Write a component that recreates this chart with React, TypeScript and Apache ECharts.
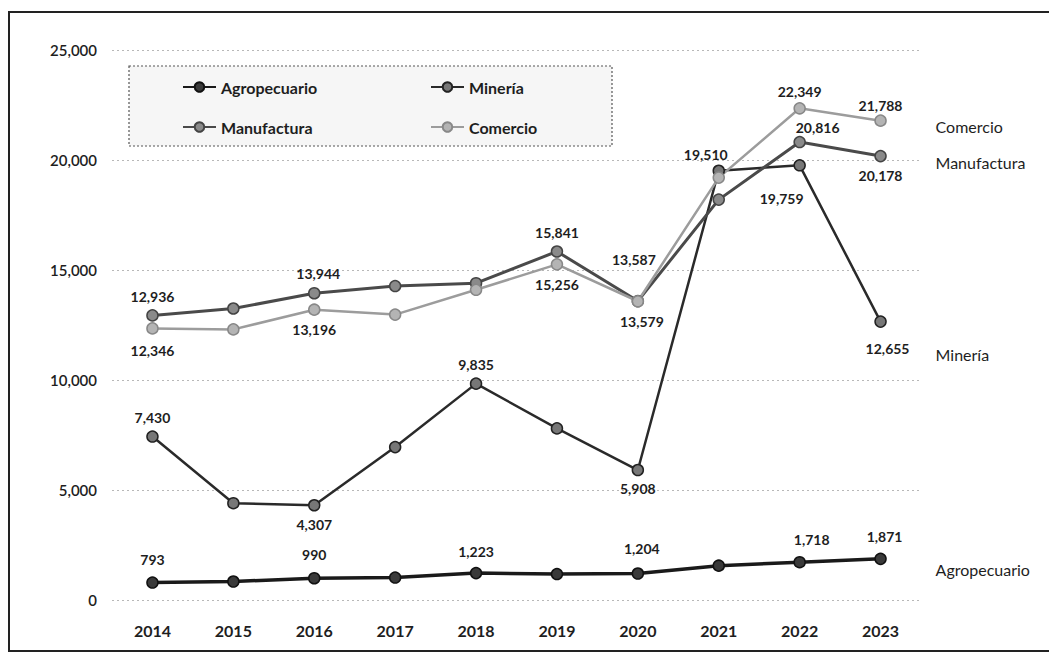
import React, { useEffect, useRef } from "react";
import * as echarts from "echarts";

const years = ["2014", "2015", "2016", "2017", "2018", "2019", "2020", "2021", "2022", "2023"];
const agropecuario = [793, 840, 990, 1020, 1223, 1180, 1204, 1560, 1718, 1871];
const mineria = [7430, 4400, 4307, 6950, 9835, 7800, 5908, 19510, 19759, 12655];
const manufactura = [12936, 13250, 13944, 14270, 14400, 15841, 13587, 18200, 20816, 20178];
const comercio = [12346, 12300, 13196, 12973, 14100, 15256, 13579, 19200, 22349, 21788];
const yTicks = [0, 5000, 10000, 15000, 20000, 25000];

// label placement (style only)
const agroLabels: Record<number, any> = {
  0: { position: "top", distance: 10 },
  2: { position: "top", distance: 10 },
  4: { position: "top", distance: 8 },
  6: { position: "top", distance: 12, offset: [4, 0] },
  8: { position: "top", distance: 9, offset: [12, 0] },
  9: { position: "top", distance: 9, offset: [4, 0] },
};
const mineriaLabels: Record<number, any> = {
  0: { position: "top", distance: 6 },
  2: { position: "bottom", distance: 6 },
  4: { position: "top", distance: 6 },
  6: { position: "bottom", distance: 5 },
  7: { position: "top", distance: 3, offset: [-13, 0] },
  8: { position: "bottom", distance: 20, offset: [-18, 0] },
  9: { position: "bottom", distance: 14, offset: [7, 0] },
};
const manufLabels: Record<number, any> = {
  0: { position: "top", distance: 6 },
  2: { position: "top", distance: 6, offset: [4, 0] },
  5: { position: "top", distance: 6 },
  6: { position: "top", distance: 28, offset: [-4, 0] },
  8: { position: "top", distance: 1, offset: [18, 0] },
  9: { position: "bottom", distance: 6 },
};
const comercioLabels: Record<number, any> = {
  0: { position: "bottom", distance: 9 },
  2: { position: "bottom", distance: 7 },
  5: { position: "bottom", distance: 7 },
  6: { position: "bottom", distance: 7, offset: [4, 0] },
  8: { position: "top", distance: 4 },
  9: { position: "top", distance: 2 },
};

const FONT = "Lato, 'Open Sans', sans-serif";
const fmt = (v: number) => v.toLocaleString("en-US");

function buildData(values: number[], labels: Record<number, any>) {
  return values.map((v, i) => {
    const l = labels[i];
    return {
      value: v,
      label: l
        ? { show: true, ...l, formatter: () => fmt(v) }
        : { show: false },
    };
  });
}

function makeSeries(
  name: string,
  values: number[],
  labels: Record<number, any>,
  lineColor: string,
  lineWidth: number,
  markerColor: string,
  borderColor: string,
  endOffset: number[]
) {
  return {
    name,
    type: "line",
    data: buildData(values, labels),
    symbol: "circle",
    symbolSize: 11,
    lineStyle: { color: lineColor, width: lineWidth },
    itemStyle: { color: markerColor, borderColor, borderWidth: 1.5 },
    label: {
      fontFamily: FONT,
      fontWeight: "bold",
      fontSize: 14,
      color: "#1e1e1e",
    },
    endLabel: {
      show: true,
      formatter: name,
      fontFamily: FONT,
      fontSize: 16,
      color: "#1e1e1e",
      offset: endOffset,
      distance: 5,
    },
    emphasis: { disabled: true },
  };
}

export default function App() {
  const ref = useRef<HTMLDivElement>(null);
  useEffect(() => {
    if (!ref.current) return;
    const chart = echarts.init(ref.current, undefined, { renderer: "svg" });
    const legendBase = {
      orient: "horizontal",
      itemWidth: 33,
      itemHeight: 12,
      itemGap: 4,
      padding: 0,
      textStyle: { fontFamily: FONT, fontWeight: "bold", fontSize: 16, color: "#1e1e1e" },
      selectedMode: false,
    };
    chart.setOption({
      animation: false,
      backgroundColor: "#ffffff",
      grid: { left: 112, right: 128, top: 50, bottom: 54 },
      xAxis: {
        type: "category",
        data: years,
        boundaryGap: true,
        axisLine: { show: false },
        axisTick: { show: false },
        axisLabel: {
          margin: 22,
          fontFamily: FONT,
          fontWeight: "bold",
          fontSize: 16,
          color: "#1e1e1e",
        },
      },
      yAxis: {
        type: "value",
        min: yTicks[0],
        max: yTicks[yTicks.length - 1],
        interval: 5000,
        axisLine: { show: false },
        axisTick: { show: false },
        axisLabel: {
          margin: 15,
          fontFamily: FONT,
          fontWeight: 600,
          fontSize: 15,
          color: "#1e1e1e",
          formatter: (v: number) => fmt(v),
        },
        splitLine: { lineStyle: { color: "#b8b8b8", type: [2, 3], width: 1 } },
      },
      legend: [
        { ...legendBase, data: ["Agropecuario"], left: 182, top: 79 },
        { ...legendBase, data: ["Minería"], left: 430, top: 79 },
        { ...legendBase, data: ["Manufactura"], left: 182, top: 119 },
        { ...legendBase, data: ["Comercio"], left: 430, top: 119 },
      ],
      graphic: [
        {
          type: "rect",
          z: 0,
          silent: true,
          shape: { x: 129, y: 66, width: 483, height: 80 },
          style: { fill: "#f6f6f6", stroke: "#555", lineWidth: 1.2, lineDash: [2, 2] },
        },
        {
          type: "rect",
          z: 0,
          silent: true,
          shape: { x: 9, y: 12, width: 1060, height: 639 },
          style: { fill: "none", stroke: "#222", lineWidth: 2 },
        },
      ],
      series: [
        makeSeries("Agropecuario", agropecuario, agroLabels, "#1a1a1a", 3.5, "#3a3a3a", "#111", [50, 11]),
        makeSeries("Minería", mineria, mineriaLabels, "#2a2a2a", 2.5, "#777", "#222", [50, 33]),
        makeSeries("Manufactura", manufactura, manufLabels, "#4a4a4a", 3, "#8a8a8a", "#444", [50, 6]),
        makeSeries("Comercio", comercio, comercioLabels, "#9c9c9c", 2.5, "#b4b4b4", "#888", [50, 6]),
      ],
    });
    return () => chart.dispose();
  }, []);
  return (
    <div
      ref={ref}
      style={{ position: "fixed", left: 0, top: 0, width: 1049, height: 654 }}
    />
  );
}
